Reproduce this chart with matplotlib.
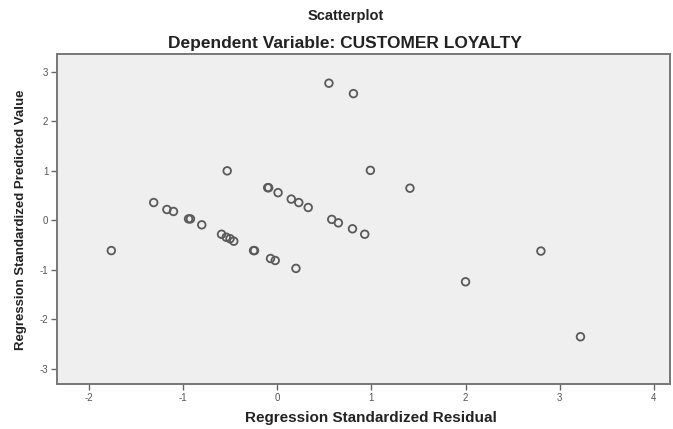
import matplotlib
matplotlib.use("Agg")
import matplotlib.pyplot as plt

plt.rcParams['font.family'] = ['Liberation Sans', 'DejaVu Sans']
plt.rcParams['axes.unicode_minus'] = False

# standardized residual (x) and standardized predicted value (y)
residual = [-1.76, -1.31, -1.17, -1.10, -0.94, -0.92, -0.80, -0.59, -0.54, -0.50,
            -0.46, -0.25, -0.24, -0.07, -0.02, 0.20, -0.53, -0.10, -0.09, 0.01,
            0.15, 0.23, 0.33, 0.58, 0.65, 0.80, 0.93, 0.55, 0.81, 0.99,
            1.41, 2.00, 2.80, 3.22]
predicted = [-0.61, 0.36, 0.22, 0.18, 0.03, 0.03, -0.09, -0.28, -0.34, -0.37,
             -0.42, -0.61, -0.61, -0.77, -0.81, -0.97, 1.00, 0.66, 0.66, 0.56,
             0.43, 0.36, 0.26, 0.02, -0.05, -0.17, -0.28, 2.77, 2.56, 1.01,
             0.65, -1.24, -0.62, -2.35]

xticks = [-2, -1, 0, 1, 2, 3, 4]
yticks = [-3, -2, -1, 0, 1, 2, 3]

fig = plt.figure(figsize=(6.73, 4.29), dpi=100, facecolor='white')
ax = fig.add_axes([0.0842, 0.1042, 0.9113, 0.7688])
ax.set_facecolor('#efefef')

ax.scatter(residual, predicted, s=30, facecolors='none', edgecolors='#5a5a5a',
           linewidths=1.3, zorder=3)

ax.set_xlim(-2.34, 4.17)
ax.set_ylim(-3.31, 3.35)
ax.set_xticks(xticks)
ax.set_yticks(yticks)
ax.tick_params(direction='out', length=4, width=1, colors='#666666',
               labelsize=7, labelcolor='#555555', pad=2)

for side in ['left', 'bottom', 'top', 'right']:
    ax.spines[side].set_color('#777777')
    ax.spines[side].set_linewidth(1.4)

ax.set_ylabel('Regression Standardized Predicted Value', fontsize=9.5, fontweight='bold',
              color='#222222', labelpad=9)

fig.text(0.551, 0.026, 'Regression Standardized Residual', ha='center', va='center',
         fontsize=11, fontweight='bold', color='#222222')
fig.text(0.514, 0.963, 'Scatterplot', ha='center', va='center', fontsize=10.5,
         fontweight='bold', color='#222222')
fig.text(0.513, 0.898, 'Dependent Variable: CUSTOMER LOYALTY', ha='center', va='center',
         fontsize=12.5, fontweight='bold', color='#222222')

fig.savefig('out.png', dpi=100, facecolor='white')
